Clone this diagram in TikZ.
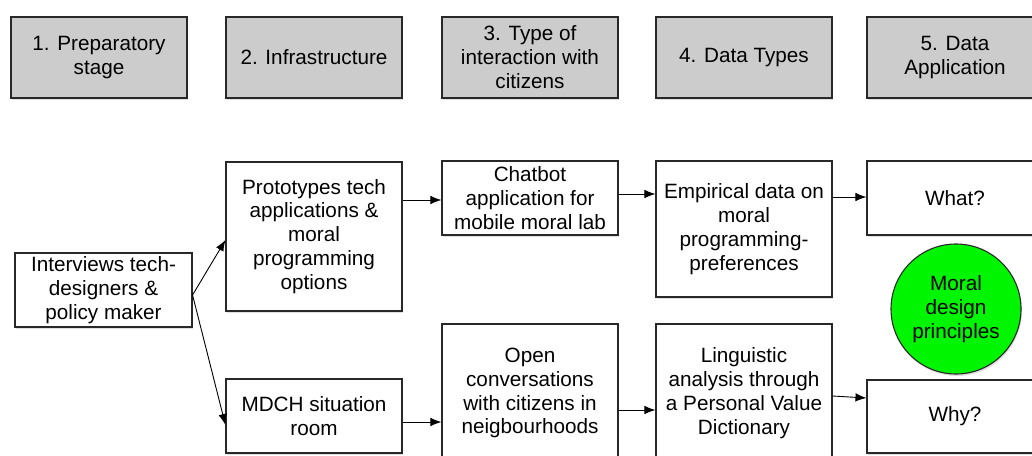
\documentclass[tikz,border=0pt]{standalone}
\usepackage{fontspec}
\setmainfont{Liberation Sans}
\usetikzlibrary{arrows.meta,shadows}
\definecolor{hdrgray}{RGB}{204,204,204}
\definecolor{brightgreen}{RGB}{0,245,0}
\definecolor{edge}{RGB}{40,40,40}
\begin{document}
\begin{tikzpicture}[x=1pt,y=-1pt,
  every node/.style={font=\fontsize{20.7}{23.9}\selectfont, align=center, inner sep=2pt},
  box/.style={draw=edge, line width=1.1pt, fill=white, minimum width=176pt,
    drop shadow={opacity=0.25, shadow xshift=1pt, shadow yshift=-2pt}},
  hdr/.style={box, fill=hdrgray, minimum height=81pt},
  disc/.style={circle, draw=edge, line width=1.1pt, fill=brightgreen, minimum size=130pt,
    drop shadow={opacity=0.25, shadow xshift=1pt, shadow yshift=-2pt}},
  arr/.style={draw=black, line width=0.9pt, -{Latex[length=11pt,width=8.5pt]}}]
\useasboundingbox (0,0) rectangle (1032,455);
\clip (0,0) rectangle (1032,455);
% headers
\node[hdr] (h1) at (99,57.5) {1. Preparatory\\stage};
\node[hdr] (h2) at (314,57.5) {2. Infrastructure};
\node[hdr] (h3) at (530,57.5) {3. Type of\\interaction with\\citizens};
\node[hdr] (h4) at (744,57.5) {4. Data Types};
\node[hdr] (h5) at (955,57.5) {5. Data\\Application};
% body
\node[box, minimum width=177pt, minimum height=74pt] (iv) at (103.5,290) {Interviews tech-\\designers \&\\policy maker};
\node[box, minimum height=149pt] (pt) at (314,236.5) {Prototypes tech\\applications \&\\moral\\programming\\options};
\node[box, minimum height=74pt] (md) at (314,416) {MDCH situation\\room};
\node[box, minimum height=74pt] (cb) at (530,198) {Chatbot\\application for\\mobile moral lab};
\node[box, minimum height=138pt] (oc) at (530,393) {Open\\conversations\\with citizens in\\neigbourhoods};
\node[box, minimum height=136pt] (em) at (744,229) {Empirical data on\\moral\\programming-\\preferences};
\node[box, minimum height=138pt] (li) at (744,393) {Linguistic\\analysis through\\a Personal Value\\Dictionary};
\node[box, minimum height=74pt] (wh) at (955,198) {What?};
\node[box, minimum height=73pt] (wy) at (955,416.5) {Why?};
\node[disc] (mp) at (956,309) {Moral\\design\\principles};
% connectors
\draw[arr] ([yshift=-5pt]iv.east) -- ([yshift=-3.5pt]pt.west);
\draw[arr] ([yshift=-5pt]iv.east) -- ([yshift=-9pt]md.west);
\draw[arr] ([yshift=36.5pt]pt.east) -- ([yshift=-2pt]cb.west);
\draw[arr] ([yshift=-6pt]md.east) -- ([yshift=-29pt]oc.west);
\draw[arr] ([yshift=4pt]cb.east) -- ([yshift=35pt]em.west);
\draw[arr] ([yshift=32pt]em.east) -- ([yshift=1pt]wh.west);
\draw[arr] ([yshift=-17pt]oc.east) -- ([yshift=-17pt]li.west);
\draw[arr] ([yshift=-3pt]li.east) -- ([yshift=18.5pt]wy.west);
\end{tikzpicture}
\end{document}
